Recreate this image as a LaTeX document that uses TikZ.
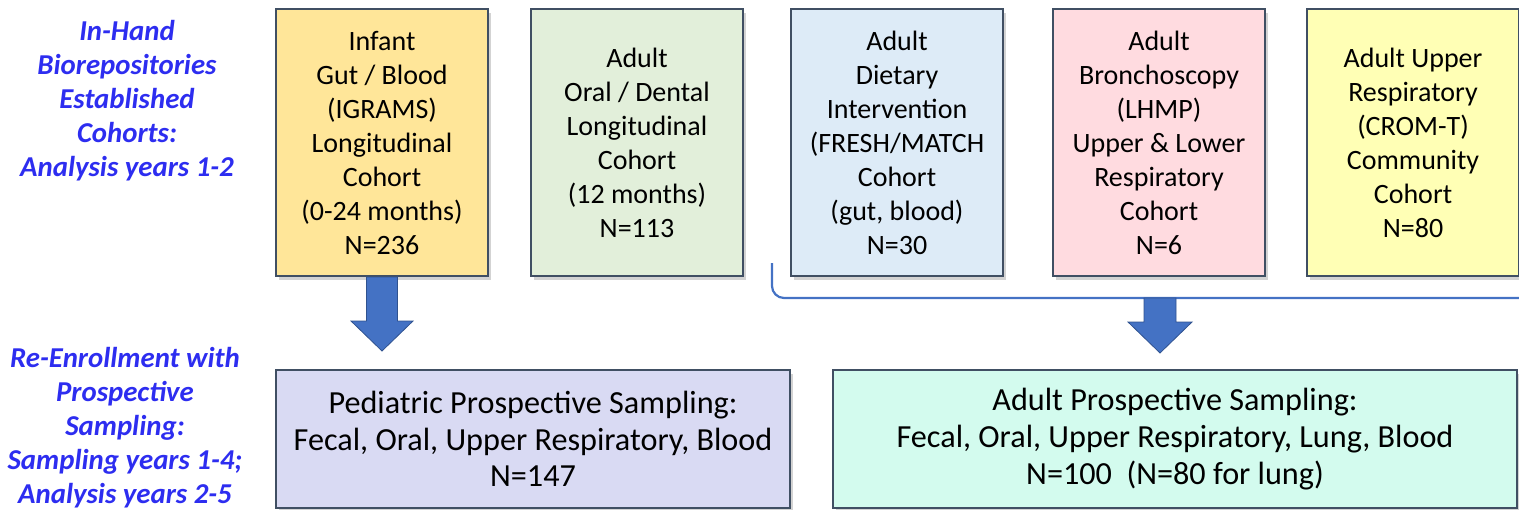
\documentclass[tikz,border=0pt]{standalone}
\usepackage{fontspec}
\setmainfont{Carlito}
\usetikzlibrary{shadows,calc}
\definecolor{bord}{HTML}{404F63}
\definecolor{arrblue}{HTML}{4472C4}
\definecolor{arrbord}{HTML}{2F528F}
\definecolor{lblblue}{RGB}{45,45,240}
\definecolor{cA}{HTML}{FFE699}
\definecolor{cB}{HTML}{E2EFDA}
\definecolor{cC}{HTML}{DDEBF7}
\definecolor{cD}{HTML}{FFDBE0}
\definecolor{cE}{HTML}{FFFFB5}
\definecolor{cF}{HTML}{D9DAF3}
\definecolor{cG}{HTML}{D3FBEE}
\tikzset{
  cohort/.style={draw=bord, line width=1pt, anchor=north west, align=center,
    minimum width=106pt, minimum height=133.5pt, inner sep=0pt,
    font=\fontsize{14}{17}\selectfont,
    drop shadow={shadow xshift=1.5pt, shadow yshift=-2pt, opacity=0.35}},
  prosp/.style={draw=bord, line width=1pt, anchor=north west, align=center,
    minimum height=69pt, inner sep=0pt,
    font=\fontsize{16.1}{18.3}\selectfont,
    drop shadow={shadow xshift=1.5pt, shadow yshift=-2pt, opacity=0.35}},
  sidelabel/.style={align=center, text=lblblue,
    font=\fontsize{14.4}{17}\selectfont\bfseries\itshape},
  blockarrow/.style={fill=arrblue, draw=arrbord, line width=0.4pt},
  bracket/.style={draw=arrblue, line width=1.1pt, rounded corners=6pt}
}
\begin{document}
\begin{tikzpicture}[x=0.5pt,y=-0.5pt]
\useasboundingbox (0,0) rectangle (1519,509);

\node[sidelabel] (lt) at (127,101) {In-Hand\\Biorepositories\\Established\\Cohorts:\\Analysis years 1-2};
\node[sidelabel] (lb) at (125,428) {Re-Enrollment with\\Prospective\\Sampling:\\Sampling years 1-4;\\Analysis years 2-5};

\node[cohort, fill=cA] (b1) at (275,8) {Infant\\Gut / Blood\\(IGRAMS)\\Longitudinal\\Cohort\\(0-24 months)\\N=236};
\node[cohort, fill=cB] (b2) at (530,8) {Adult\\Oral / Dental\\Longitudinal\\Cohort\\(12 months)\\N=113};
\node[cohort, fill=cC] (b3) at (790,8) {Adult\\Dietary\\Intervention\\(FRESH/MATCH\\Cohort\\(gut, blood)\\N=30};
\node[cohort, fill=cD] (b4) at (1052,8) {Adult\\Bronchoscopy\\(LHMP)\\Upper \& Lower\\Respiratory\\Cohort\\N=6};
\node[cohort, fill=cE] (b5) at (1306,8) {Adult Upper\\Respiratory\\(CROM-T)\\Community\\Cohort\\N=80};

\node[prosp, fill=cF, minimum width=257pt] (p1) at (275,369) {Pediatric Prospective Sampling:\\Fecal, Oral, Upper Respiratory, Blood\\N=147};
\node[prosp, fill=cG, minimum width=342pt] (p2) at (832,369) {Adult Prospective Sampling:\\Fecal, Oral, Upper Respiratory, Lung, Blood\\N=100\ \ (N=80 for lung)};

% bracket gathering adult cohorts
\coordinate (brs) at (772,263);
\coordinate (bre) at (1519,298);
\draw[bracket] (brs) |- (bre);

% block arrow 1
\coordinate (a1t) at (b1.south);
\coordinate (a1b) at (p1.north -| b1.south);
\fill[blockarrow] ($(a1t)+(-15.5,0)$) -- ($(a1t)+(15.5,0)$) -- ($(a1t)+(15.5,44)$) -- ($(a1t)+(31,44)$)
  -- ($(a1b)+(0,-18)$) -- ($(a1t)+(-31,44)$) -- ($(a1t)+(-15.5,44)$) -- cycle;

% block arrow 2
\coordinate (a2t) at (1160,298);
\coordinate (a2b) at (p2.north -| a2t);
\fill[blockarrow] ($(a2t)+(-16,0)$) -- ($(a2t)+(16,0)$) -- ($(a2t)+(16,24)$) -- ($(a2t)+(32,24)$)
  -- ($(a2b)+(0,-16)$) -- ($(a2t)+(-32,24)$) -- ($(a2t)+(-16,24)$) -- cycle;
\end{tikzpicture}
\end{document}
